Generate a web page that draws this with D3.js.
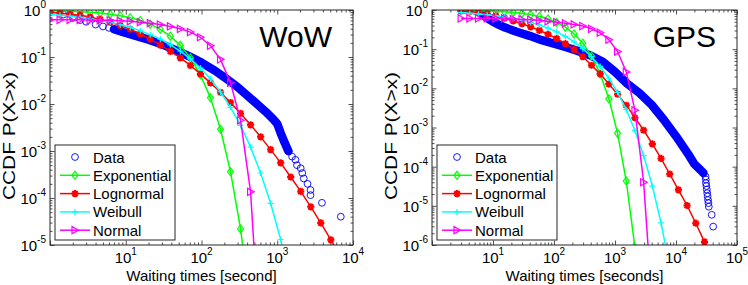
<!DOCTYPE html>
<meta charset="utf-8">
<style>
  body { margin: 0; background: #fff; }
  svg { display: block; font-family: "Liberation Sans", Arial, sans-serif; }
</style>
<svg width="748" height="285"></svg>
<script src="https://d3js.org/d3.v7.min.js"></script>
<script>

// ---- WoW panel: fitted curves are evaluated on one log grid ----
var wowX = [1, 1.357, 1.840, 2.496, 3.386, 4.592, 6.229, 8.450, 11.46, 15.55,
  21.09, 28.61, 38.80, 52.63, 71.40, 96.83, 131.3, 178.2, 241.7, 327.8,
  444.6, 603.1, 818.1, 1110, 1505, 2042, 2770, 3757, 5096, 6913];
var wowExp = [0.967, 0.956, 0.941, 0.920, 0.893, 0.859, 0.813, 0.755, 0.684, 0.598,
  0.499, 0.389, 0.278, 0.177, 0.0955, 0.0417, 0.0135, 2.9e-3, 3.6e-4, 2.2e-5, 4.8e-7];
var wowLogn = [0.891, 0.851, 0.813, 0.776, 0.708, 0.631, 0.550, 0.468, 0.389, 0.309,
  0.240, 0.178, 0.132, 0.0955, 0.0661, 0.0437, 0.0282, 0.0178, 0.0107, 6.3e-3,
  3.6e-3, 2.0e-3, 1.07e-3, 5.6e-4, 2.8e-4, 1.38e-4, 6.5e-5, 2.95e-5, 1.29e-5, 5.5e-6];
var wowWeib = [0.805, 0.773, 0.736, 0.697, 0.650, 0.600, 0.546, 0.486, 0.425, 0.362,
  0.299, 0.239, 0.182, 0.133, 0.0910, 0.0581, 0.0340, 0.0181, 8.5e-3, 3.5e-3,
  1.21e-3, 3.4e-4, 7.7e-5, 1.31e-5, 1.6e-6];
var wowNorm = [0.617, 0.617, 0.617, 0.617, 0.603, 0.603, 0.603, 0.589, 0.575, 0.550,
  0.525, 0.490, 0.447, 0.398, 0.339, 0.263, 0.174, 0.0891, 0.0282, 4.5e-3, 1.35e-4, 5e-8];
// empirical CCDF: dense part drawn as a band, sparse points as circles
var wowBand = [[7, 0.389], [10, 0.324], [15, 0.269], [20, 0.234], [30, 0.186], [50, 0.132],
  [70, 0.102], [100, 0.0759], [150, 0.0513], [200, 0.0372], [300, 0.0229], [500, 0.0112],
  [700, 6.9e-3], [900, 4.6e-3], [1000, 3.8e-3], [1100, 2.5e-3], [1250, 1.51e-3], [1400, 1.0e-3]];
var wowDots = [[1, 0.933], [1.5, 0.80], [2, 0.676], [2.5, 0.61], [3, 0.562], [4, 0.490], [5, 0.447],
  [6, 0.417], [7, 0.389], [8, 0.36], [9, 0.34],
  [1420, 9.8e-4], [1570, 7.6e-4], [1740, 6.5e-4], [1820, 5.0e-4], [2040, 4.3e-4], [2140, 3.4e-4],
  [2240, 2.6e-4], [2510, 2.0e-4], [2750, 1.48e-4], [2750, 1.15e-4], [3890, 7.9e-5], [6900, 4.0e-5]];

// ---- GPS panel ----
var gpsX = [3.0, 4.164, 5.78, 8.03, 11.14, 15.47, 21.48, 29.83, 41.4, 57.5,
  79.8, 110.8, 153.8, 213.6, 296.5, 411.7, 571.5, 793.5, 1102, 1530,
  2123, 2948, 4093, 5682, 7889, 10953, 15205, 21110, 29309, 40690];
var gpsExp = [0.980, 0.973, 0.963, 0.949, 0.929, 0.903, 0.868, 0.822, 0.762, 0.686,
  0.592, 0.482, 0.364, 0.245, 0.142, 0.0667, 0.0233, 5.4e-3, 7.1e-4, 4.3e-5, 8.6e-7];
var gpsLogn = [0.933, 0.912, 0.851, 0.794, 0.708, 0.617, 0.525, 0.447, 0.372, 0.302,
  0.240, 0.186, 0.138, 0.0977, 0.0646, 0.0389, 0.0234, 0.0129, 7.1e-3, 3.7e-3,
  1.78e-3, 8.5e-4, 3.8e-4, 1.62e-4, 6.5e-5, 2.57e-5, 1.02e-5, 3.6e-6, 1.2e-6, 3.8e-7];
var gpsWeib = [0.853, 0.824, 0.792, 0.755, 0.711, 0.662, 0.608, 0.548, 0.483, 0.415,
  0.345, 0.277, 0.211, 0.153, 0.103, 0.0643, 0.0362, 0.0181, 7.9e-3, 2.85e-3,
  8.4e-4, 1.91e-4, 3.2e-5, 3.7e-6, 2.7e-7];
var gpsNorm = [0.610, 0.610, 0.610, 0.610, 0.610, 0.610, 0.589, 0.575, 0.562, 0.537,
  0.513, 0.490, 0.457, 0.427, 0.389, 0.331, 0.263, 0.174, 0.0871, 0.0263, 2.75e-3, 4.0e-5, 2.5e-8];
var gpsBand = [[6, 0.871], [7.9, 0.631], [10, 0.501], [12.6, 0.417], [15.8, 0.355], [25.1, 0.275],
  [39.8, 0.219], [63.1, 0.170], [100, 0.138], [158, 0.112], [251, 0.0891], [398, 0.0692],
  [631, 0.0479], [1000, 0.0263], [1585, 0.0132], [2512, 7.6e-3], [3981, 3.8e-3], [6310, 1.58e-3],
  [10000, 6.0e-4], [15850, 2.1e-4], [19950, 1.17e-4], [25120, 8.3e-5], [28180, 6.9e-5]];
var gpsDots = [[3, 0.99], [3.5, 0.98], [4.2, 0.97], [5, 0.95], [6, 0.90],
  [30500, 5.6e-5], [30800, 4.7e-5], [31000, 3.8e-5], [31500, 3.2e-5], [32000, 2.6e-5],
  [32500, 2.1e-5], [33000, 1.74e-5], [33500, 1.41e-5], [34000, 1.17e-5], [34500, 9.5e-6],
  [38500, 5.9e-6], [40700, 2.95e-6]];

var legendNames = ["Data", "Exponential", "Lognormal", "Weibull", "Normal"];
var wowXTicks = [10, 100, 1000, 10000];
var gpsXTicks = [10, 100, 1000, 10000, 100000];
var wowYTicks = [1, 1e-1, 1e-2, 1e-3, 1e-4, 1e-5];
var gpsYTicks = [1, 1e-1, 1e-2, 1e-3, 1e-4, 1e-5, 1e-6];

var svg = d3.select("svg");
var axisColor = "#262626";

var markers = {
  diamond: "M0,-4L3,0L0,4L-3,0Z",
  star: "M-3.6,0H3.6M0,-3.6V3.6M-2.6,-2.6L2.6,2.6M-2.6,2.6L2.6,-2.6",
  plus: "M-3,0H3M0,-3V3",
  tri: "M-3,-3.6L3.6,0L-3,3.6Z"
};

function drawPanel(c) {
  var x = d3.scaleLog().domain(c.xDomain).range([c.left, c.right]);
  var y = d3.scaleLog().domain(c.yDomain).range([c.bottom, c.top]);
  var g = svg.append("g");
  var w = c.right - c.left, h = c.bottom - c.top;

  svg.append("clipPath").attr("id", "clip-" + c.name)
    .append("rect").attr("x", c.left).attr("y", c.top).attr("width", w).attr("height", h);

  // ticks (inside, on all four sides)
  var isMajor = function(v) { var l = Math.log10(v); return Math.abs(l - Math.round(l)) < 1e-6; };
  var xMinor = x.ticks().filter(function(v) { return !isMajor(v); });
  var xMajor = x.ticks().filter(isMajor);
  var yMinor = y.ticks().filter(function(v) { return !isMajor(v); });
  var yMajor = y.ticks().filter(isMajor);

  function ax(fn, scale, vals, len, tr) {
    g.append("g").attr("transform", tr)
      .call(fn(scale).tickValues(vals).tickSize(-len).tickSizeOuter(0).tickFormat(""))
      .call(function(s) { s.select(".domain").remove(); })
      .call(function(s) { s.selectAll("line").attr("stroke", axisColor).attr("stroke-width", 0.8); });
  }
  [[xMinor, 2.5], [xMajor, 4.5]].forEach(function(t) {
    ax(d3.axisBottom, x, t[0], t[1], "translate(0," + c.bottom + ")");
    ax(d3.axisTop, x, t[0], t[1], "translate(0," + c.top + ")");
  });
  [[yMinor, 2.5], [yMajor, 4.5]].forEach(function(t) {
    ax(d3.axisLeft, y, t[0], t[1], "translate(" + c.left + ",0)");
    ax(d3.axisRight, y, t[0], t[1], "translate(" + c.right + ",0)");
  });

  // plot content
  var plot = g.append("g").attr("clip-path", "url(#clip-" + c.name + ")");
  var line = d3.line().x(function(d) { return x(d[0]); }).y(function(d) { return y(d[1]); });

  plot.append("path").datum(c.band)
    .attr("d", line).attr("fill", "none").attr("stroke", "#0000ff")
    .attr("stroke-width", 8.5).attr("stroke-linecap", "round").attr("stroke-linejoin", "round");
  plot.selectAll(".dot").data(c.dots).enter().append("circle")
    .attr("cx", function(d) { return x(d[0]); }).attr("cy", function(d) { return y(d[1]); })
    .attr("r", 3.4).attr("fill", "none").attr("stroke", "#0000ff").attr("stroke-width", 0.9);

  c.series.forEach(function(s) {
    var pts = s.p.map(function(p, i) { return [c.xs[i], p]; });
    plot.append("path").datum(pts).attr("d", line)
      .attr("fill", "none").attr("stroke", s.color).attr("stroke-width", 1.5);
    plot.selectAll(null).data(pts).enter().append("path")
      .attr("transform", function(d) { return "translate(" + x(d[0]) + "," + y(d[1]) + ")"; })
      .attr("d", markers[s.marker]).attr("fill", "none")
      .attr("stroke", s.color).attr("stroke-width", s.marker === "star" ? 2 : 1.2);
  });

  // frame
  g.append("rect").attr("x", c.left).attr("y", c.top).attr("width", w).attr("height", h)
    .attr("fill", "none").attr("stroke", axisColor).attr("stroke-width", 1);

  // tick labels
  c.xTicks.forEach(function(v) {
    var t = g.append("text").attr("x", x(v)).attr("y", c.bottom + 18)
      .attr("text-anchor", "middle").attr("font-size", 15).attr("fill", "#000");
    t.append("tspan").text("10");
    t.append("tspan").attr("dy", -8).attr("font-size", 10).text(Math.round(Math.log10(v)));
  });
  c.yTicks.forEach(function(v) {
    var t = g.append("text").attr("x", c.left - 4).attr("y", y(v) + 6)
      .attr("text-anchor", "end").attr("font-size", 15).attr("fill", "#000");
    t.append("tspan").text("10");
    t.append("tspan").attr("dy", -8).attr("font-size", 10).text(Math.round(Math.log10(v)));
  });

  // axis titles
  g.append("text").attr("x", (c.left + c.right) / 2).attr("y", 281)
    .attr("text-anchor", "middle").attr("font-size", 15).text(c.xTitle);
  g.append("text").attr("transform", "translate(" + (c.left - 35) + "," + (c.top + 126) + ") rotate(-90)")
    .attr("text-anchor", "middle").attr("font-size", 17)
    .attr("textLength", 128).attr("lengthAdjust", "spacingAndGlyphs").text("CCDF P(X>x)");

  // panel name
  g.append("text").attr("x", c.right - 21).attr("y", 47).attr("text-anchor", "end")
    .attr("font-size", 30).text(c.name);

  // legend
  var lg = g.append("g").attr("transform", "translate(" + (c.left + 5) + ",145)");
  lg.append("rect").attr("width", 120).attr("height", 95)
    .attr("fill", "#fff").attr("stroke", axisColor).attr("stroke-width", 1);
  var legendStyles = [{color: "#0000ff", marker: null}].concat(c.series);
  legendStyles.forEach(function(s, i) {
    var ry = 12 + i * 18.3;
    if (s.marker) {
      lg.append("line").attr("x1", 5).attr("x2", 35).attr("y1", ry).attr("y2", ry)
        .attr("stroke", s.color).attr("stroke-width", 1.5);
      lg.append("path").attr("transform", "translate(20," + ry + ")").attr("d", markers[s.marker])
        .attr("fill", "none").attr("stroke", s.color).attr("stroke-width", s.marker === "star" ? 2 : 1.2);
    } else {
      lg.append("circle").attr("cx", 20).attr("cy", ry).attr("r", 3.4)
        .attr("fill", "none").attr("stroke", s.color).attr("stroke-width", 0.9);
    }
    lg.append("text").attr("x", 38).attr("y", ry + 5.5).attr("font-size", 15).text(legendNames[i]);
  });
}

drawPanel({
  name: "WoW", left: 50, right: 353, top: 10, bottom: 245,
  xDomain: [1, 1e4], yDomain: [1e-5, 1], xs: wowX,
  xTicks: wowXTicks, yTicks: wowYTicks, xTitle: "Waiting times [second]",
  band: wowBand, dots: wowDots,
  series: [
    {p: wowExp, color: "#00ff00", marker: "diamond"},
    {p: wowLogn, color: "#ff0000", marker: "star"},
    {p: wowWeib, color: "#00ffff", marker: "plus"},
    {p: wowNorm, color: "#ff00ff", marker: "tri"}
  ]
});

drawPanel({
  name: "GPS", left: 432, right: 737, top: 10, bottom: 245,
  xDomain: [1, 1e5], yDomain: [1e-6, 1], xs: gpsX,
  xTicks: gpsXTicks, yTicks: gpsYTicks, xTitle: "Waiting times [seconds]",
  band: gpsBand, dots: gpsDots,
  series: [
    {p: gpsExp, color: "#00ff00", marker: "diamond"},
    {p: gpsLogn, color: "#ff0000", marker: "star"},
    {p: gpsWeib, color: "#00ffff", marker: "plus"},
    {p: gpsNorm, color: "#ff00ff", marker: "tri"}
  ]
});

</script>
